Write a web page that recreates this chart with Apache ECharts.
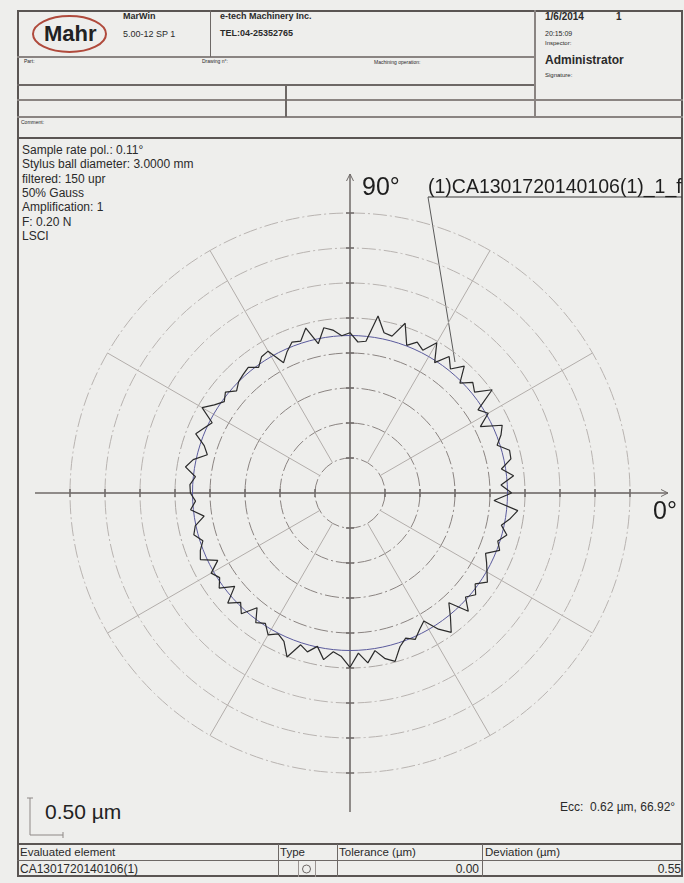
<!DOCTYPE html>
<html>
<head>
<meta charset="utf-8">
<script src="https://cdn.jsdelivr.net/npm/echarts@6/dist/echarts.min.js"></script>
<style>
html, body { margin: 0; padding: 0; }
body { width: 684px; height: 883px; background: #eeeeec; position: relative; overflow: hidden;
  font-family: "Liberation Sans", Arial, sans-serif; color: #2a2a2a; }
.ln { position: absolute; background: #6d6866; }
.tx { position: absolute; white-space: nowrap; line-height: 1; }
.b { font-weight: bold; }
#chart { position: absolute; left: 0; top: 0; width: 682px; height: 883px; z-index: 2; }
</style>
</head>
<body>
<!-- report frame -->
<div style="position:absolute;left:17px;top:10px;width:666px;height:867px;border:2px solid #5a5553;box-sizing:border-box"></div>
<div class="ln" style="left:17px;top:56px;width:518px;height:2px;background:#8a8482"></div>
<div class="ln" style="left:17px;top:84px;width:518px;height:2px"></div>
<div class="ln" style="left:17px;top:99px;width:666px;height:2px;background:#8a8482"></div>
<div class="ln" style="left:17px;top:116px;width:666px;height:2px;background:#8a8482"></div>
<div class="ln" style="left:17px;top:137px;width:666px;height:2px;background:#5a5553"></div>
<div class="ln" style="left:210px;top:10px;width:1px;height:47px"></div>
<div class="ln" style="left:534px;top:10px;width:2px;height:108px;background:#8a8482"></div>
<div class="ln" style="left:285px;top:85px;width:2px;height:32px"></div>

<svg style="position:absolute;left:30px;top:13px" width="80" height="44">
  <ellipse cx="39.5" cy="21" rx="36.5" ry="18" fill="none" stroke="#b04a3c" stroke-width="2"/>
</svg>
<div class="tx b" style="left:44px;top:23px;font-size:22px;color:#222">Mahr</div>
<div class="tx b" style="left:123px;top:12px;font-size:9px">MarWin</div>
<div class="tx" style="left:123px;top:30px;font-size:9px">5.00-12 SP 1</div>
<div class="tx b" style="left:220px;top:12px;font-size:9px">e-tech Machinery Inc.</div>
<div class="tx b" style="left:220px;top:29px;font-size:9px">TEL:04-25352765</div>
<div class="tx" style="left:24px;top:59px;font-size:5px">Part:</div>
<div class="tx" style="left:202px;top:59px;font-size:5px">Drawing n°:</div>
<div class="tx" style="left:374px;top:60px;font-size:5px">Machining operation:</div>
<div class="tx" style="left:21px;top:120px;font-size:5px">Comment:</div>
<div class="tx b" style="left:545px;top:12px;font-size:10px">1/6/2014</div>
<div class="tx b" style="left:616px;top:12px;font-size:10px">1</div>
<div class="tx" style="left:545px;top:30px;font-size:7px">20:15:09</div>
<div class="tx" style="left:545px;top:40px;font-size:6px">Inspector:</div>
<div class="tx b" style="left:545px;top:54px;font-size:12px">Administrator</div>
<div class="tx" style="left:545px;top:72px;font-size:6px">Signature:</div>

<!-- measurement conditions -->
<div class="tx" style="left:22px;top:144px;font-size:12px">Sample rate pol.: 0.11°</div>
<div class="tx" style="left:22px;top:158px;font-size:12px">Stylus ball diameter: 3.0000 mm</div>
<div class="tx" style="left:22px;top:173px;font-size:12px">filtered: 150 upr</div>
<div class="tx" style="left:22px;top:187px;font-size:12px">50% Gauss</div>
<div class="tx" style="left:22px;top:201px;font-size:12px">Amplification: 1</div>
<div class="tx" style="left:22px;top:216px;font-size:12px">F: 0.20 N</div>
<div class="tx" style="left:22px;top:230px;font-size:12px">LSCI</div>

<div class="tx" style="left:45px;top:801px;font-size:21px;color:#222">0.50 µm</div>
<div class="tx" style="left:560px;top:801px;font-size:12px">Ecc:&nbsp; 0.62 µm, 66.92°</div>

<!-- result table -->
<div class="ln" style="left:17px;top:843px;width:666px;height:2px;background:#5a5553"></div>
<div class="ln" style="left:17px;top:860px;width:666px;height:1px"></div>
<div class="ln" style="left:278px;top:844px;width:1px;height:33px"></div>
<div class="ln" style="left:337px;top:844px;width:1px;height:33px"></div>
<div class="ln" style="left:482px;top:844px;width:1px;height:33px"></div>
<div class="ln" style="left:298px;top:861px;width:1px;height:16px;background:#9a9492"></div>
<div class="ln" style="left:315px;top:861px;width:1px;height:16px;background:#9a9492"></div>
<svg style="position:absolute;left:300px;top:863px" width="13" height="12"><circle cx="6.5" cy="6" r="4" fill="none" stroke="#6d6866" stroke-width="1"/></svg>
<div class="tx" style="left:20px;top:847px;font-size:11.5px">Evaluated element</div>
<div class="tx" style="left:280px;top:847px;font-size:11.5px">Type</div>
<div class="tx" style="left:339px;top:847px;font-size:11.5px">Tolerance (µm)</div>
<div class="tx" style="left:485px;top:847px;font-size:11.5px">Deviation (µm)</div>
<div class="tx" style="left:20px;top:863px;font-size:12px">CA1301720140106(1)</div>
<div class="tx" style="left:400px;top:863px;width:79px;text-align:right;font-size:12px">0.00</div>
<div class="tx" style="left:600px;top:863px;width:81px;text-align:right;font-size:12px">0.55</div>

<div id="chart"></div>
<script>
// roundness profile, deviation from the LSCI circle in µm, one value every 3°
const angleStep = 3;
const deviation = [
  0.06, -0.09, 0.10, -0.06, 0.10, 0.11, -0.04, 0.06, 0.13, -0.16,
  0.03, -0.07, 0.26, 0.04, 0.11, -0.03, 0.19, 0.03, 0.16, -0.03,
  0.23, 0.04, 0.11, 0.01, 0.30, 0.07, 0.09, 0.31, -0.07, -0.09,
  0.04, 0.00, 0.09, 0.14, -0.07, 0.19, 0.03, 0.06, -0.04, -0.16,
  0.09, 0.07, -0.03, 0.06, 0.03, 0.00, -0.07, 0.04, -0.03, 0.06,
  0.19, -0.04, 0.03, 0.11, -0.06, -0.14, 0.04, 0.13, -0.03, 0.04,
  0.03, -0.04, 0.04, -0.14, 0.01, 0.06, -0.04, 0.04, 0.09, -0.13,
  0.04, -0.03, 0.06, -0.13, 0.10, -0.04, 0.07, -0.14, 0.04, -0.03,
  0.09, 0.01, 0.07, 0.26, 0.03, 0.10, -0.01, 0.16, 0.03, 0.09,
  0.24, 0.04, 0.19, 0.03, 0.17, 0.24, 0.06, -0.03, 0.04, -0.06,
  -0.14, 0.07, 0.21, 0.03, -0.14, 0.14, -0.03, 0.06, -0.04, 0.09,
  0.01, -0.06, -0.13, 0.04, -0.03, 0.07, -0.04, 0.07, 0.16, -0.19
];
const fitRadius = 2.25;   // µm on the suppressed radius scale
const ringMin = 0.5, ringMax = 4.0, ringStep = 0.5;   // 0.50 µm per ring
const profileLabel = '(1)CA1301720140106(1)_1_f';

const cx = 350, cy = 493, innerR = 35, outerR = 280;
const ringPx = innerR;   // pixel distance between rings

const profile = deviation.map((d, i) => [fitRadius + d, i * angleStep]);
profile.push([fitRadius + deviation[0], 360]);
const fitted = deviation.map((d, i) => [fitRadius, i * angleStep]);
fitted.push([fitRadius, 360]);

const axisColor = '#6f6a68';
const graphics = [
  { type: 'line', z: 1, shape: { x1: 35, y1: cy, x2: 668, y2: cy }, style: { stroke: axisColor, lineWidth: 1.5 } },
  { type: 'line', z: 1, shape: { x1: cx, y1: 174, x2: cx, y2: 812 }, style: { stroke: axisColor, lineWidth: 1.5 } },
  { type: 'polyline', z: 1, shape: { points: [[661, cy - 3.5], [668, cy], [661, cy + 3.5]] }, style: { stroke: axisColor, fill: null, lineWidth: 1 } },
  { type: 'polyline', z: 1, shape: { points: [[cx - 3.5, 181], [cx, 174], [cx + 3.5, 181]] }, style: { stroke: axisColor, fill: null, lineWidth: 1 } },
  // scale bar
  { type: 'line', shape: { x1: 30, y1: 798, x2: 30, y2: 835 }, style: { stroke: '#8e8886', lineWidth: 1 } },
  { type: 'line', shape: { x1: 27, y1: 798, x2: 33, y2: 798 }, style: { stroke: '#8e8886', lineWidth: 1 } },
  { type: 'line', shape: { x1: 30, y1: 835, x2: 63, y2: 835 }, style: { stroke: '#8e8886', lineWidth: 1 } },
  { type: 'line', shape: { x1: 63, y1: 832, x2: 63, y2: 838 }, style: { stroke: '#8e8886', lineWidth: 1 } },
  // profile label with leader
  { type: 'line', shape: { x1: 428, y1: 197, x2: 684, y2: 197 }, style: { stroke: '#3a3a3a', lineWidth: 1 } },
  { type: 'line', shape: { x1: 428, y1: 197, x2: 455, y2: 362 }, style: { stroke: '#5a5a5a', lineWidth: 1 } },
  { type: 'text', style: { text: profileLabel, x: 428, y: 188, font: '19.5px "Liberation Sans", Arial, sans-serif', fill: '#1e1e1e', verticalAlign: 'middle' } },
  { type: 'text', style: { text: '90°', x: 362, y: 188, font: '25px "Liberation Sans", Arial, sans-serif', fill: '#1e1e1e', verticalAlign: 'middle' } },
  { type: 'text', style: { text: '0°', x: 653, y: 512, font: '25px "Liberation Sans", Arial, sans-serif', fill: '#1e1e1e', verticalAlign: 'middle' } }
];
// small ticks where the rings cross the axes
for (let k = 1; k <= 8; k++) {
  const d = k * ringPx;
  [cx - d, cx + d].forEach(x => graphics.push({ type: 'line', z: 1, shape: { x1: x, y1: cy - 4, x2: x, y2: cy + 4 }, style: { stroke: axisColor, lineWidth: 1.5 } }));
  [cy - d, cy + d].forEach(y => graphics.push({ type: 'line', z: 1, shape: { x1: cx - 4, y1: y, x2: cx + 4, y2: y }, style: { stroke: axisColor, lineWidth: 1.5 } }));
}

const chart = echarts.init(document.getElementById('chart'));
chart.setOption({
  animation: false,
  backgroundColor: 'transparent',
  polar: { center: [cx, cy], radius: [innerR, outerR] },
  angleAxis: {
    type: 'value', min: 0, max: 360, interval: 30, startAngle: 0, clockwise: false,
    axisLine: { show: false }, axisTick: { show: false }, axisLabel: { show: false },
    splitLine: { show: true, lineStyle: { color: '#b2adaa', width: 1 } }
  },
  radiusAxis: {
    type: 'value', min: ringMin, max: ringMax, interval: ringStep,
    axisLine: { show: false }, axisTick: { show: false }, axisLabel: { show: false },
    splitLine: {
      show: true,
      lineStyle: {
        color: ['#8a8380', '#8a8380', '#8a8380', '#8a8380', '#aca7a4', '#b8b3b0', '#b8b3b0', '#b8b3b0'],
        width: 1, type: [14, 3, 2, 3]
      }
    }
  },
  series: [
    { type: 'line', coordinateSystem: 'polar', data: fitted, symbol: 'none', z: 3,
      lineStyle: { color: '#5a5a9c', width: 1 } },
    { type: 'line', coordinateSystem: 'polar', data: profile, symbol: 'none', z: 4,
      lineStyle: { color: '#2b2b2b', width: 1.2 } }
  ],
  graphic: graphics
});
</script>
</body>
</html>
